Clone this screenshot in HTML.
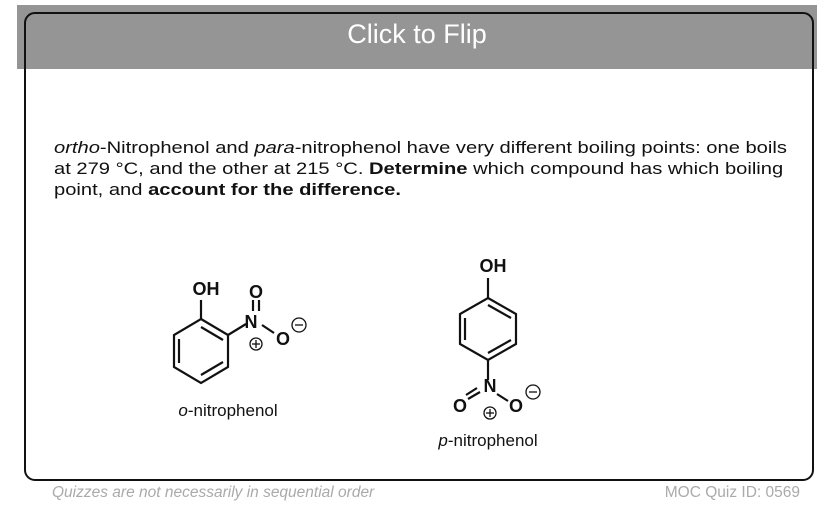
<!DOCTYPE html>
<html><head><meta charset="utf-8"><style>
body{margin:0;width:834px;height:516px;background:#fff;position:relative;overflow:hidden;font-family:"Liberation Sans",Arial,sans-serif}
.band{position:absolute;left:17px;top:5px;width:800px;height:64px;background:#959595}
.card{position:absolute;left:24px;top:12px;width:786px;height:465px;border:2px solid #111;border-radius:11px}
.title{position:absolute;left:0;width:834px;top:19px;text-align:center;color:#fff;font-size:27px}
.p{position:absolute;left:54px;top:137px;width:900px;font-size:16.8px;line-height:21px;color:#111;transform-origin:0 0;transform:scaleX(1.2);white-space:nowrap}
.f{position:absolute;top:484px;font-size:15.5px;color:#aaa}
</style></head><body>
<div class="band"></div>
<div class="card"></div>
<div class="title">Click to Flip</div>
<div class="p"><i>ortho</i>-Nitrophenol and <i>para</i>-nitrophenol have very different boiling points: one boils<br>at 279 °C, and the other at 215 °C. <b>Determine</b> which compound has which boiling<br>point, and <b>account for the difference.</b></div>
<div class="f" style="left:52px;font-style:italic">Quizzes are not necessarily in sequential order</div>
<div class="f" style="right:34px">MOC Quiz ID: 0569</div>
<svg width="834" height="516" style="position:absolute;left:0;top:0" font-family="Liberation Sans,Arial,sans-serif">
<g stroke="#111" stroke-width="2.2" fill="none">
<polygon points="201,319 228,335 228,367 201,383 174,367 174,335"/>
<line x1="179" y1="339" x2="179" y2="363"/><line x1="223" y1="340" x2="201" y2="327"/><line x1="223" y1="362" x2="201" y2="375"/>
<line x1="201" y1="319" x2="201" y2="300"/>
<line x1="228" y1="335" x2="246" y2="324"/>
<line x1="253" y1="300" x2="253" y2="311"/><line x1="259" y1="300" x2="259" y2="311"/>
<line x1="262" y1="325" x2="274" y2="333"/>
<polygon points="488,298 516,314 516,344 488,360 460,344 460,314"/>
<line x1="465" y1="318" x2="465" y2="340"/><line x1="511" y1="318" x2="488" y2="305"/><line x1="511" y1="340" x2="488" y2="353"/>
<line x1="488" y1="298" x2="488" y2="278"/>
<line x1="488" y1="360" x2="488" y2="380"/>
<line x1="480" y1="392" x2="468" y2="399"/><line x1="477" y1="388" x2="466" y2="395"/>
<line x1="497" y1="394" x2="508" y2="401"/>
</g>
<g font-weight="bold" font-size="18" fill="#111" text-anchor="middle">
<text x="206" y="295">OH</text><text x="256" y="298">O</text><text x="251" y="328">N</text><text x="283" y="345">O</text>
<text x="493" y="272">OH</text><text x="490" y="392">N</text><text x="460" y="412">O</text><text x="516" y="412">O</text>
</g>
<g stroke="#111" stroke-width="1.3" fill="none">
<circle cx="256" cy="344" r="6"/><line x1="252" y1="344" x2="260" y2="344"/><line x1="256" y1="340" x2="256" y2="348"/>
<circle cx="299" cy="325" r="7"/><line x1="295" y1="325" x2="303" y2="325"/>
<circle cx="490" cy="413" r="6"/><line x1="486" y1="413" x2="494" y2="413"/><line x1="490" y1="409" x2="490" y2="417"/>
<circle cx="533" cy="392" r="7"/><line x1="529" y1="392" x2="537" y2="392"/>
</g>
<g font-size="17" fill="#111" text-anchor="middle">
<text x="228" y="416"><tspan font-style="italic">o</tspan>-nitrophenol</text>
<text x="488" y="446"><tspan font-style="italic">p</tspan>-nitrophenol</text>
</g>
</svg>
</body></html>
